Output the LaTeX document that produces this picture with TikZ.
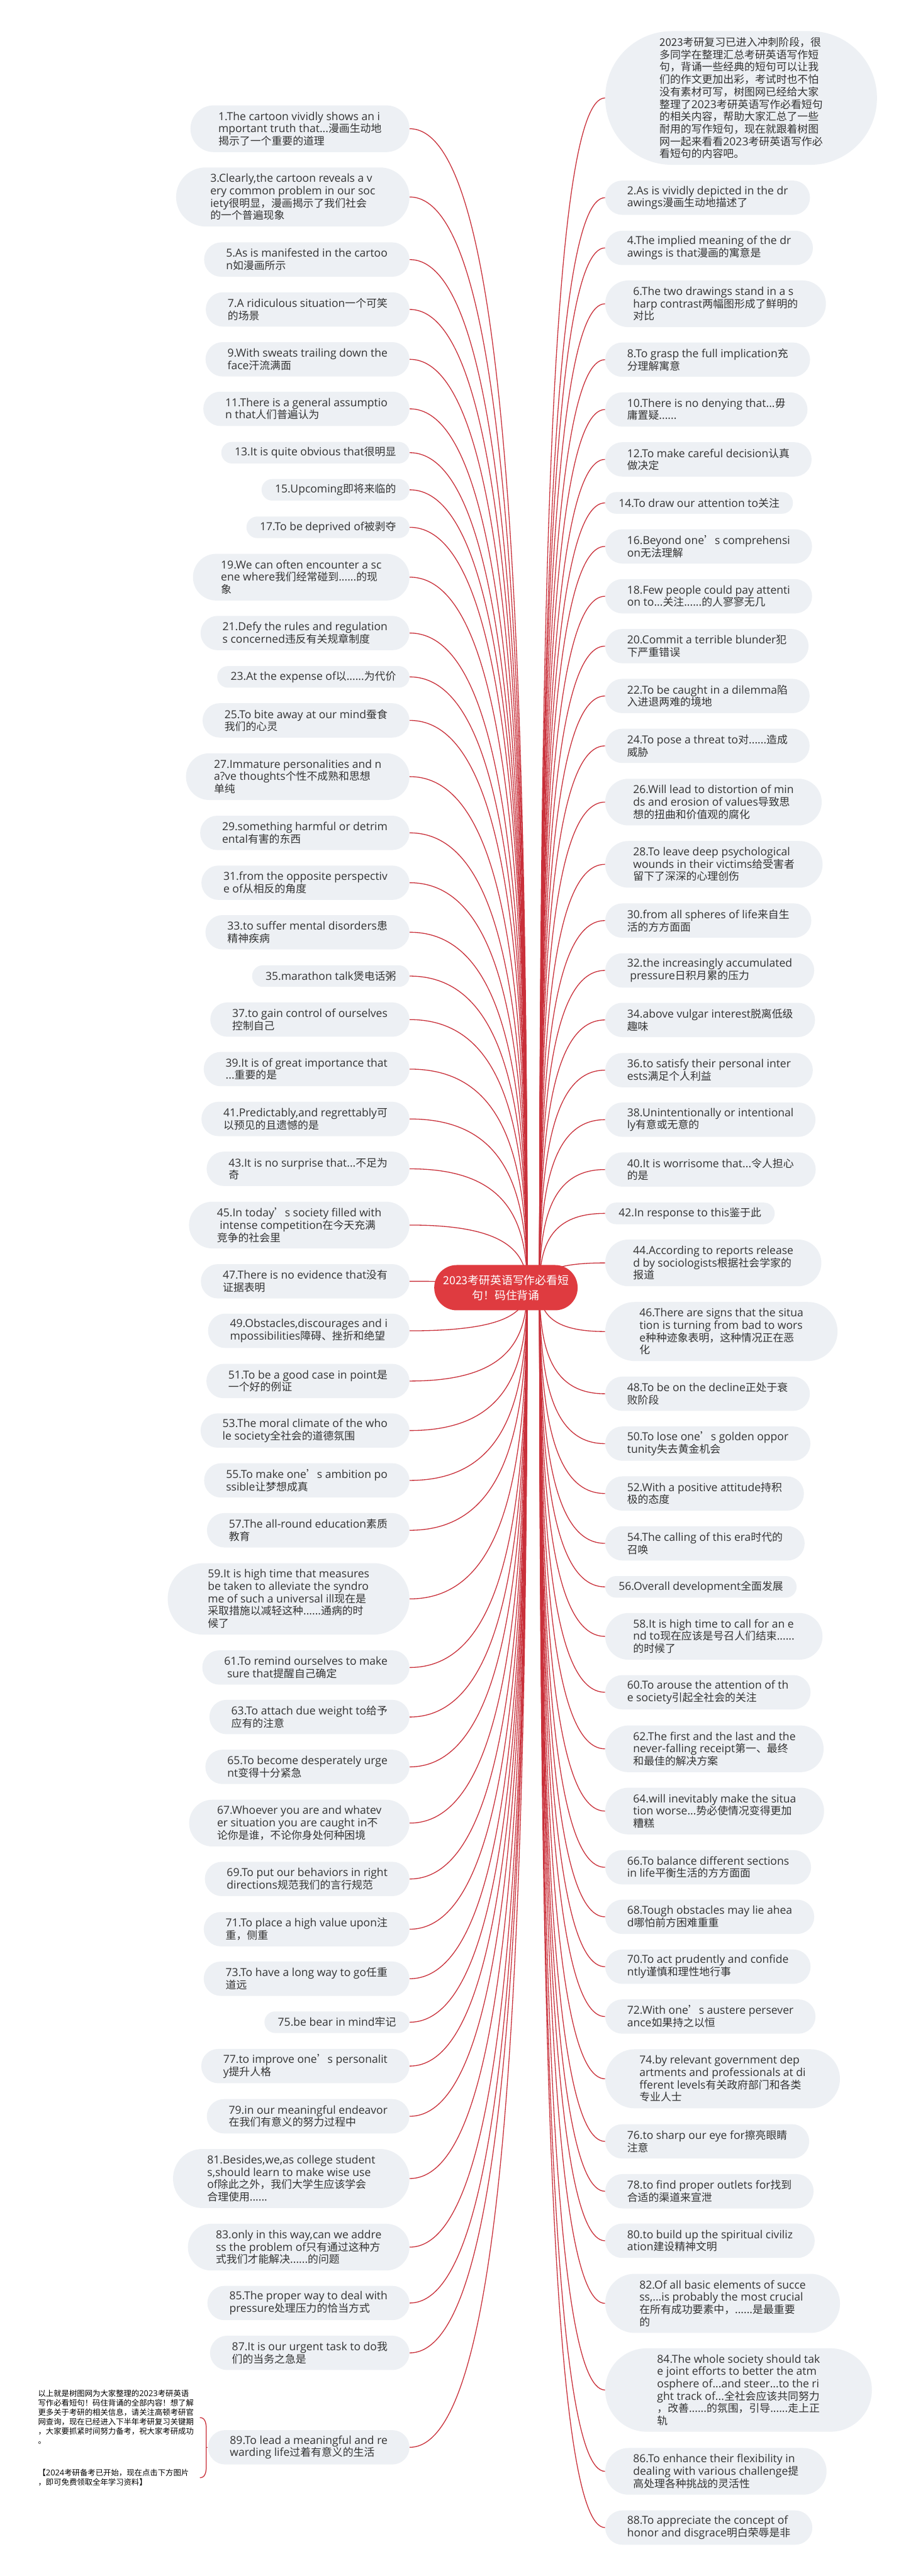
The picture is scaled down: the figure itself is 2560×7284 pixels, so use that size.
\documentclass[tikz,border=0pt]{standalone}
\usepackage{fontspec}
\setmainfont{Open Sans}[Scale=1.04]
\newfontfamily\latinfont{Open Sans}[Scale=1.04]
\newfontfamily\cjkfont{Noto Sans CJK SC}
\pgfdeclarelayer{bg}\pgfsetlayers{bg,main}
\XeTeXinterchartokenstate=1
\chardef\cjkcls=7
\newcount\cjkc
\def\setcjkrange#1#2{\cjkc=#1\relax\loop\XeTeXcharclass\cjkc=\cjkcls\relax\advance\cjkc by 1\relax\ifnum\cjkc<#2\relax\repeat}
\setcjkrange{"3000}{"3040}
\setcjkrange{"4E00}{"A000}
\setcjkrange{"FF00}{"FFF0}
\XeTeXcharclass"2019=\cjkcls
\XeTeXinterchartoks 0 \cjkcls = {\cjkfont}
\XeTeXinterchartoks 4095 \cjkcls = {\cjkfont}
\XeTeXinterchartoks \cjkcls 0 = {\latinfont}
\XeTeXinterchartoks \cjkcls 4095 = {\latinfont}
\definecolor{leafbg}{HTML}{EDF0F4}
\definecolor{txt}{HTML}{333333}
\definecolor{rootred}{HTML}{DF3B40}
\definecolor{linec}{HTML}{C9303A}
\newcommand\leaffont{\fontsize{9pt}{10.5pt}\selectfont}
\newcommand\rootfont{\fontsize{9.5pt}{13pt}\selectfont}
\newcommand\notefont{\fontsize{6.6pt}{8pt}\selectfont}
\tikzset{
 leaf/.style={rectangle, fill=leafbg, text=txt, font=\leaffont, align=left, inner ysep=1pt},
 l1/.style={leaf, minimum height=18.3pt, rounded corners=9.1pt, inner xsep=11.4pt},
 l2/.style={leaf, minimum height=29.1pt, rounded corners=14.5pt, inner xsep=18.6pt},
 l3/.style={leaf, minimum height=39.6pt, rounded corners=19.7pt, inner xsep=23.7pt},
 l4/.style={leaf, minimum height=50.1pt, rounded corners=25pt, inner xsep=29pt},
 l5/.style={leaf, minimum height=60.6pt, rounded corners=30.2pt, inner xsep=34pt},
 l6/.style={leaf, minimum height=70.8pt, rounded corners=35.3pt, inner xsep=44pt},
 bubble/.style={leaf, minimum height=113.4pt, rounded corners=56.6pt, inner xsep=46pt},
 central/.style={rectangle, fill=rootred, text=white, font=\rootfont, align=center, minimum height=38.4pt, rounded corners=19.1pt, inner xsep=7.5pt},
 conn/.style={draw=linec, line width=0.7pt},
 note/.style={font=\notefont, text=black, align=left, inner sep=0pt, anchor=west},
}
\newcommand\LN[4]{\node[#1,anchor=east] (#2) at (1158,#3) {#4};}
\newcommand\RN[4]{\node[#1,anchor=west] (#2) at (1710,#3) {#4};}
\newcommand\LC[2]{\draw[conn] (rootL) .. controls (1490,{3641+0.6*(#2-3641)}) and (1424,#2) .. (#1.east);}
\newcommand\RC[2]{\draw[conn] (rootR) .. controls (1525,{3641+0.6*(#2-3641)}) and (1562,#2) .. (#1.west);}
\begin{document}
\begin{tikzpicture}[x=0.3pt,y=-0.3pt]
\useasboundingbox (0,0) rectangle (2560,7284);
\node[central] (root) at (1430,3641) {\cjkfont 2023考研英语写作必看短\\句！码住背诵};
\coordinate (rootL) at (1490,3641);
\coordinate (rootR) at (1525,3641);
% left
\LN{l3}{n1}{364}{1.The cartoon vividly shows an i\\mportant truth that...漫画生动地\\揭示了一个重要的道理}
\LN{l4}{n3}{557}{3.Clearly,the cartoon reveals a v\\ery common problem in our soc\\iety很明显，漫画揭示了我们社会\\的一个普遍现象}
\LN{l2}{n5}{734}{5.As is manifested in the cartoo\\n如漫画所示}
\LN{l2}{n7}{875}{7.A ridiculous situation一个可笑\\的场景}
\LN{l2}{n9}{1016}{9.With sweats trailing down the\\face汗流满面}
\LN{l2}{n11}{1156}{11.There is a general assumptio\\n that人们普遍认为}
\LN{l1}{n13}{1280}{13.It is quite obvious that很明显}
\LN{l1}{n15}{1385}{15.Upcoming即将来临的}
\LN{l1}{n17}{1491}{17.To be deprived of被剥夺}
\LN{l3}{n19}{1632}{19.We can often encounter a sc\\ene where我们经常碰到......的现\\象}
\LN{l2}{n21}{1790}{21.Defy the rules and regulation\\s concerned违反有关规章制度}
\LN{l1}{n23}{1914}{23.At the expense of以......为代价}
\LN{l2}{n25}{2037}{25.To bite away at our mind蚕食\\我们的心灵}
\LN{l3}{n27}{2196}{27.Immature personalities and n\\a?ve thoughts个性不成熟和思想\\单纯}
\LN{l2}{n29}{2355}{29.something harmful or detrim\\ental有害的东西}
\LN{l2}{n31}{2496}{31.from the opposite perspectiv\\e of从相反的角度}
\LN{l2}{n33}{2636}{33.to suffer mental disorders患\\精神疾病}
\LN{l1}{n35}{2760}{35.marathon talk煲电话粥}
\LN{l2}{n37}{2883}{37.to gain control of ourselves\\控制自己}
\LN{l2}{n39}{3023}{39.It is of great importance that\\...重要的是}
\LN{l2}{n41}{3164}{41.Predictably,and regrettably可\\以预见的且遗憾的是}
\LN{l2}{n43}{3305}{43.It is no surprise that...不足为\\奇}
\LN{l3}{n45}{3464}{45.In today’s society filled with\\~intense competition在今天充满\\竞争的社会里}
\LN{l2}{n47}{3623}{47.There is no evidence that没有\\证据表明}
\LN{l2}{n49}{3763}{49.Obstacles,discourages and i\\mpossibilities障碍、挫折和绝望}
\LN{l2}{n51}{3905}{51.To be a good case in point是\\一个好的例证}
\LN{l2}{n53}{4045}{53.The moral climate of the who\\le society全社会的道德氛围}
\LN{l2}{n55}{4186}{55.To make one’s ambition po\\ssible让梦想成真}
\LN{l2}{n57}{4327}{57.The all-round education素质\\教育}
\LN{l5}{n59}{4521}{59.It is high time that measures\\be taken to alleviate the syndro\\me of such a universal ill现在是\\采取措施以减轻这种......通病的时\\候了}
\LN{l2}{n61}{4715}{61.To remind ourselves to make\\~sure that提醒自己确定}
\LN{l2}{n63}{4855}{63.To attach due weight to给予\\应有的注意}
\LN{l2}{n65}{4996}{65.To become desperately urge\\nt变得十分紧急}
\LN{l3}{n67}{5155}{67.Whoever you are and whatev\\er situation you are caught in不\\论你是谁，不论你身处何种困境}
\LN{l2}{n69}{5313}{69.To put our behaviors in right\\directions规范我们的言行规范}
\LN{l2}{n71}{5455}{71.To place a high value upon注\\重，侧重}
\LN{l2}{n73}{5595}{73.To have a long way to go任重\\道远}
\LN{l1}{n75}{5718}{75.be bear in mind牢记}
\LN{l2}{n77}{5842}{77.to improve one’s personalit\\y提升人格}
\LN{l2}{n79}{5984}{79.in our meaningful endeavor\\在我们有意义的努力过程中}
\LN{l4}{n81}{6160}{81.Besides,we,as college student\\s,should learn to make wise use\\of除此之外，我们大学生应该学会\\合理使用......}
\LN{l3}{n83}{6354}{83.only in this way,can we addre\\ss the problem of只有通过这种方\\式我们才能解决......的问题}
\LN{l2}{n85}{6512}{85.The proper way to deal with\\pressure处理压力的恰当方式}
\LN{l2}{n87}{6653}{87.It is our urgent task to do我\\们的当务之急是}
\LN{l2}{n89}{6920}{89.To lead a meaningful and re\\warding life过着有意义的生活}
\node[note] (note1) at (107,6835) {\cjkfont 以上就是树图网为大家整理的2023考研英语\\写作必看短句！码住背诵的全部内容！想了解\\更多关于考研的相关信息，请关注高顿考研官\\网查询，现在已经进入下半年考研复习关键期\\，大家要抓紧时间努力备考，祝大家考研成功\\。};
\node[note] (note2) at (107,7006) {\cjkfont 【2024考研备考已开始，现在点击下方图片\\，即可免费领取全年学习资料】};
\coordinate (bt) at (565,6836);
\coordinate (bb) at (565,7006);
\coordinate (bm) at (583,6920);
% right
\node[bubble,anchor=west] (intro) at (1710,277) {\cjkfont 2023考研复习已进入冲刺阶段，很\\多同学在整理汇总考研英语写作短\\句，背诵一些经典的短句可以让我\\们的作文更加出彩，考试时也不怕\\没有素材可写，树图网已经给大家\\整理了2023考研英语写作必看短句\\的相关内容，帮助大家汇总了一些\\耐用的写作短句，现在就跟着树图\\网一起来看看2023考研英语写作必\\看短句的内容吧。};
\RN{l2}{n2}{559}{2.As is vividly depicted in the dr\\awings漫画生动地描述了}
\RN{l2}{n4}{701}{4.The implied meaning of the dr\\awings is that漫画的寓意是}
\RN{l3}{n6}{859}{6.The two drawings stand in a s\\harp contrast两幅图形成了鲜明的\\对比}
\RN{l2}{n8}{1017}{8.To grasp the full implication充\\分理解寓意}
\RN{l2}{n10}{1158}{10.There is no denying that...毋\\庸置疑......}
\RN{l2}{n12}{1299}{12.To make careful decision认真\\做决定}
\RN{l1}{n14}{1422}{14.To draw our attention to关注}
\RN{l2}{n16}{1545}{16.Beyond one’s comprehensi\\on无法理解}
\RN{l2}{n18}{1686}{18.Few people could pay attenti\\on to...关注......的人寥寥无几}
\RN{l2}{n20}{1827}{20.Commit a terrible blunder犯\\下严重错误}
\RN{l2}{n22}{1968}{22.To be caught in a dilemma陷\\入进退两难的境地}
\RN{l2}{n24}{2109}{24.To pose a threat to对......造成\\威胁}
\RN{l3}{n26}{2268}{26.Will lead to distortion of min\\ds and erosion of values导致思\\想的扭曲和价值观的腐化}
\RN{l3}{n28}{2444}{28.To leave deep psychological\\wounds in their victims给受害者\\留下了深深的心理创伤}
\RN{l2}{n30}{2603}{30.from all spheres of life来自生\\活的方方面面}
\RN{l2}{n32}{2744}{32.the increasingly accumulated\\~pressure日积月累的压力}
\RN{l2}{n34}{2884}{34.above vulgar interest脱离低级\\趣味}
\RN{l2}{n36}{3026}{36.to satisfy their personal inter\\ests满足个人利益}
\RN{l2}{n38}{3166}{38.Unintentionally or intentional\\ly有意或无意的}
\RN{l2}{n40}{3307}{40.It is worrisome that...令人担心\\的是}
\RN{l1}{n42}{3431}{42.In response to this鉴于此}
\RN{l3}{n44}{3571}{44.According to reports release\\d by sociologists根据社会学家的\\报道}
\RN{l4}{n46}{3765}{46.There are signs that the situa\\tion is turning from bad to wors\\e种种迹象表明，这种情况正在恶\\化}
\RN{l2}{n48}{3941}{48.To be on the decline正处于衰\\败阶段}
\RN{l2}{n50}{4082}{50.To lose one’s golden oppor\\tunity失去黄金机会}
\RN{l2}{n52}{4223}{52.With a positive attitude持积\\极的态度}
\RN{l2}{n54}{4364}{54.The calling of this era时代的\\召唤}
\RN{l1}{n56}{4487}{56.Overall development全面发展}
\RN{l3}{n58}{4627}{58.It is high time to call for an e\\nd to现在应该是号召人们结束......\\的时候了}
\RN{l2}{n60}{4785}{60.To arouse the attention of th\\e society引起全社会的关注}
\RN{l3}{n62}{4945}{62.The first and the last and the\\never-falling receipt第一、最终\\和最佳的解决方案}
\RN{l3}{n64}{5121}{64.will inevitably make the situa\\tion worse...势必使情况变得更加\\糟糕}
\RN{l2}{n66}{5280}{66.To balance different sections\\in life平衡生活的方方面面}
\RN{l2}{n68}{5420}{68.Tough obstacles may lie ahea\\d哪怕前方困难重重}
\RN{l2}{n70}{5561}{70.To act prudently and confide\\ntly谨慎和理性地行事}
\RN{l2}{n72}{5702}{72.With one’s austere persever\\ance如果持之以恒}
\RN{l4}{n74}{5878}{74.by relevant government dep\\artments and professionals at di\\fferent levels有关政府部门和各类\\专业人士}
\RN{l2}{n76}{6055}{76.to sharp our eye for擦亮眼睛\\注意}
\RN{l2}{n78}{6196}{78.to find proper outlets for找到\\合适的渠道来宣泄}
\RN{l2}{n80}{6336}{80.to build up the spiritual civiliz\\ation建设精神文明}
\RN{l4}{n82}{6513}{82.Of all basic elements of succe\\ss,...is probably the most crucial\\在所有成功要素中，......是最重要\\的}
\RN{l6}{n84}{6758}{84.The whole society should tak\\e joint efforts to better the atm\\osphere of...and steer...to the ri\\ght track of...全社会应该共同努力\\，改善......的氛围，引导......走上正\\轨}
\RN{l3}{n86}{6988}{86.To enhance their flexibility in\\dealing with various challenge提\\高处理各种挑战的灵活性}
\RN{l2}{n88}{7147}{88.To appreciate the concept of\\honor and disgrace明白荣辱是非}
\begin{pgfonlayer}{bg}
\fill[white] (0,0) rectangle (2560,7284);
\foreach \n/\y in {n1/364,n3/557,n5/734,n7/875,n9/1016,n11/1156,n13/1280,n15/1385,n17/1491,n19/1632,n21/1790,n23/1914,n25/2037,n27/2196,n29/2355,n31/2496,n33/2636,n35/2760,n37/2883,n39/3023,n41/3164,n43/3305,n45/3464,n47/3623,n49/3763,n51/3905,n53/4045,n55/4186,n57/4327,n59/4521,n61/4715,n63/4855,n65/4996,n67/5155,n69/5313,n71/5455,n73/5595,n75/5718,n77/5842,n79/5984,n81/6160,n83/6354,n85/6512,n87/6653,n89/6920}{\LC{\n}{\y}}
\foreach \n/\y in {intro/277,n2/559,n4/701,n6/859,n8/1017,n10/1158,n12/1299,n14/1422,n16/1545,n18/1686,n20/1827,n22/1968,n24/2109,n26/2268,n28/2444,n30/2603,n32/2744,n34/2884,n36/3026,n38/3166,n40/3307,n42/3431,n44/3571,n46/3765,n48/3941,n50/4082,n52/4223,n54/4364,n56/4487,n58/4627,n60/4785,n62/4945,n64/5121,n66/5280,n68/5420,n70/5561,n72/5702,n74/5878,n76/6055,n78/6196,n80/6336,n82/6513,n84/6758,n86/6988,n88/7147}{\RC{\n}{\y}}
\draw[conn] (bt) .. controls (578,6836) and (583,6848) .. (583,6868) -- (583,6974) .. controls (583,6994) and (578,7006) .. (bb);
\draw[conn] (bm) -- (n89.west);
\end{pgfonlayer}
\end{tikzpicture}
\end{document}
